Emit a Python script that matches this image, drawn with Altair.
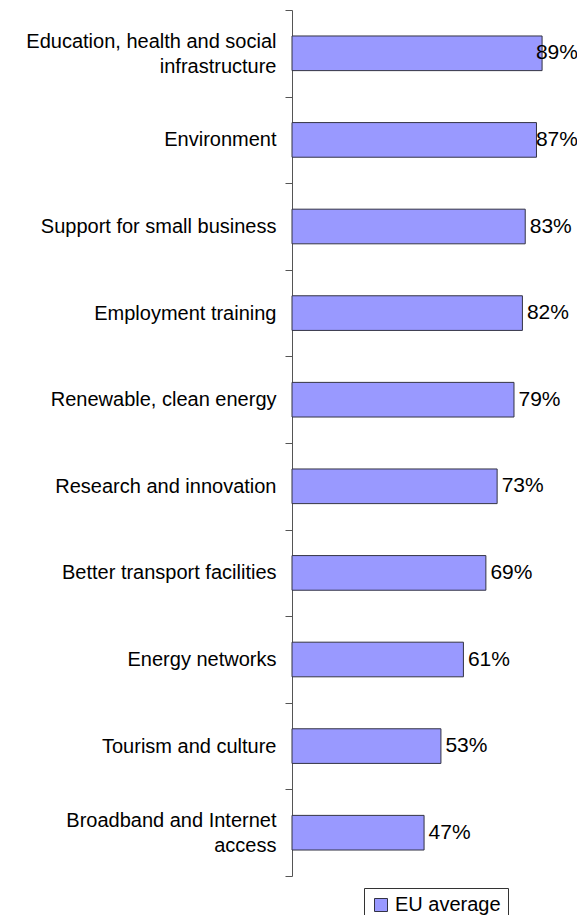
import altair as alt
import pandas as pd

categories = [
    "Education, health and social|infrastructure",
    "Environment",
    "Support for small business",
    "Employment training",
    "Renewable, clean energy",
    "Research and innovation",
    "Better transport facilities",
    "Energy networks",
    "Tourism and culture",
    "Broadband and Internet|access",
]
values = [89, 87, 83, 82, 79, 73, 69, 61, 53, 47]
series = ["EU average"] * len(categories)

df = pd.DataFrame({"category": categories, "value": values, "series": series})
df["label"] = df["value"].astype(str) + "%"

FONT = "Liberation Sans"
BAR_FILL = "#9999ff"
EDGE = "#333344"

y_enc = alt.Y(
    "category:N",
    sort=categories,
    scale=alt.Scale(paddingInner=0, paddingOuter=0),
    axis=alt.Axis(
        title=None,
        labelExpr="split(datum.label, '|')",
        labelFontSize=20,
        labelFont=FONT,
        labelColor="#000000",
        labelLineHeight=25,
        labelPadding=9,
        labelOffset={"condition": {"test": "indexof(datum.label, '|') >= 0", "value": -12}, "value": 0},
        tickSize=7,
        tickBand="extent",
        tickColor="#555555",
        tickWidth=1,
        domainColor="#555555",
        domainWidth=1,
        labelLimit=400,
    ),
)

x_scale = alt.Scale(domain=[0, 100])

bars = alt.Chart(df).mark_bar(stroke=EDGE, strokeWidth=1, height={"band": 0.4}).encode(
    y=y_enc,
    x=alt.X("value:Q", scale=x_scale, axis=None),
    color=alt.Color(
        "series:N",
        scale=alt.Scale(domain=["EU average"], range=[BAR_FILL]),
        legend=alt.Legend(
            title=None,
            orient="none",
            legendX=72,
            legendY=878,
            symbolType="square",
            symbolSize=169,
            symbolStrokeColor=EDGE,
            symbolStrokeWidth=1,
            labelFontSize=20,
            labelFont=FONT,
            labelColor="#000000",
            strokeColor="#333333",
            fillColor="#ffffff",
            padding=7,
            cornerRadius=0,
        ),
    ),
)

# value labels sit just right of each bar, but stay inside the chart area
texts = (
    alt.Chart(df)
    .transform_calculate(pos="min(datum.value, 85.2)")
    .mark_text(align="left", baseline="middle", dx=4.5, fontSize=21, font=FONT, color="#000000")
    .encode(y=y_enc, x=alt.X("pos:Q", scale=x_scale, axis=None), text="label:N")
)

chart = (
    alt.layer(bars, texts)
    .properties(
        width=281,
        height=866,
        autosize=alt.AutoSizeParams(type="none"),
        padding={"top": 2, "left": 284, "right": 4, "bottom": 40},
    )
    .configure_view(stroke=None)
)

chart.save("out.html", embed_options={"renderer": "svg", "actions": False})
